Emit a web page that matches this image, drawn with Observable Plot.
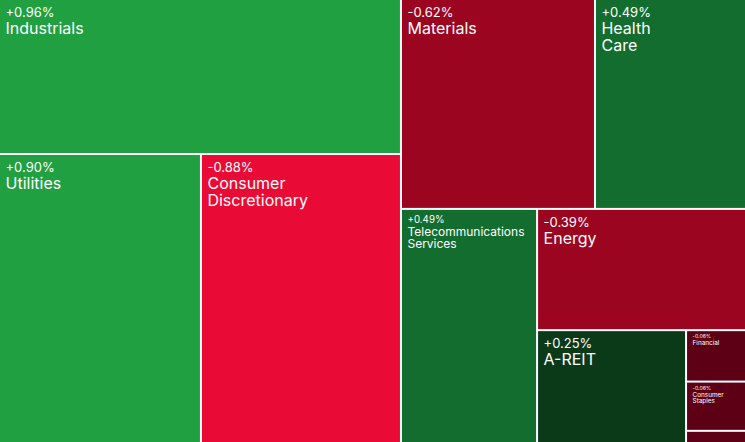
<!DOCTYPE html>
<html>
<head>
<meta charset="utf-8">
<script src="https://cdn.jsdelivr.net/npm/d3@7"></script>
<script src="https://cdn.jsdelivr.net/npm/@observablehq/plot@0.6"></script>
<style>
  html, body { margin: 0; padding: 0; background: #ffffff; }
  #chart svg { display: block; }
</style>
</head>
<body>
<div id="chart"></div>
<script>
// Sector names, relative weights (cell sizes) and daily changes (%)
const sectors = ["Industrials", "Utilities", "Consumer Discretionary", "Materials", "Health Care",
  "Telecommunications Services", "Energy", "A-REIT", "Financial", "Consumer Staples", "Information Technology"];
const weights = [187.9, 176.0, 174.3, 122.8, 95.6, 96.1, 76.4, 50.7, 9.3, 8.9, 2.2];
const changes = [0.96, 0.90, -0.88, -0.62, 0.49, 0.49, -0.39, 0.25, -0.06, -0.06, -0.06];

const W = 745, H = 442;
const FONT = "Inter, 'Open Sans', sans-serif";

const root = d3.hierarchy({children: sectors.map((name, i) => ({name, value: weights[i], change: changes[i]}))})
  .sum(d => d.value || 0);
d3.treemap().tile(d3.treemapBinary).size([W, H]).paddingInner(2).round(false)(root);

const ctx = document.createElement("canvas").getContext("2d");
ctx.font = "16px Inter";
const cells = root.leaves().map(n => {
  const w = n.x1 - n.x0, h = n.y1 - n.y0;
  let s;
  if (w < 80 || h < 40) s = 0.4;
  else {
    const longest = d3.max(n.data.name.split(" "), t => ctx.measureText(t).width);
    s = Math.min(1, Math.floor(16 * (w - 10) / longest) / 16);
  }
  return {
    name: n.data.name, change: n.data.change,
    x0: n.x0, x1: n.x1, y0: n.y0, y1: n.y1, s,
    show: h >= 20,
    pct: (n.data.change > 0 ? "+" : "") + n.data.change.toFixed(2) + "%",
    label: n.data.name.split(" ").join("\n")
  };
});
const labeled = cells.filter(d => d.show);

const chart = Plot.plot({
  width: W, height: H,
  margin: 0,
  style: {fontFamily: FONT, background: "#ffffff"},
  x: {domain: [0, W], range: [0, W], axis: null},
  y: {domain: [0, H], range: [0, H], axis: null},
  color: {type: "threshold", domain: [-0.75, -0.2, 0, 0.4, 0.75],
    range: ["#e90b35", "#9b0520", "#5d0016", "#0a3a18", "#136d2e", "#20a040"]},
  marks: [
    Plot.rect(cells, {x1: "x0", x2: "x1", y1: "y0", y2: "y1", fill: "change"}),
    Plot.text(labeled, {
      x: d => d.x0 + 5, y: d => d.y0 + 7 * d.s,
      text: "pct", fill: "white", textAnchor: "start", lineAnchor: "top",
      fontSize: d => 13 * d.s
    }),
    Plot.text(labeled, {
      x: d => d.x0 + 5, y: d => d.y0 + 21.5 * d.s,
      text: "label", fill: "white", textAnchor: "start", lineAnchor: "top",
      lineHeight: 1.06, fontSize: d => 16 * d.s
    })
  ]
});
document.getElementById("chart").appendChild(chart);
</script>
</body>
</html>
